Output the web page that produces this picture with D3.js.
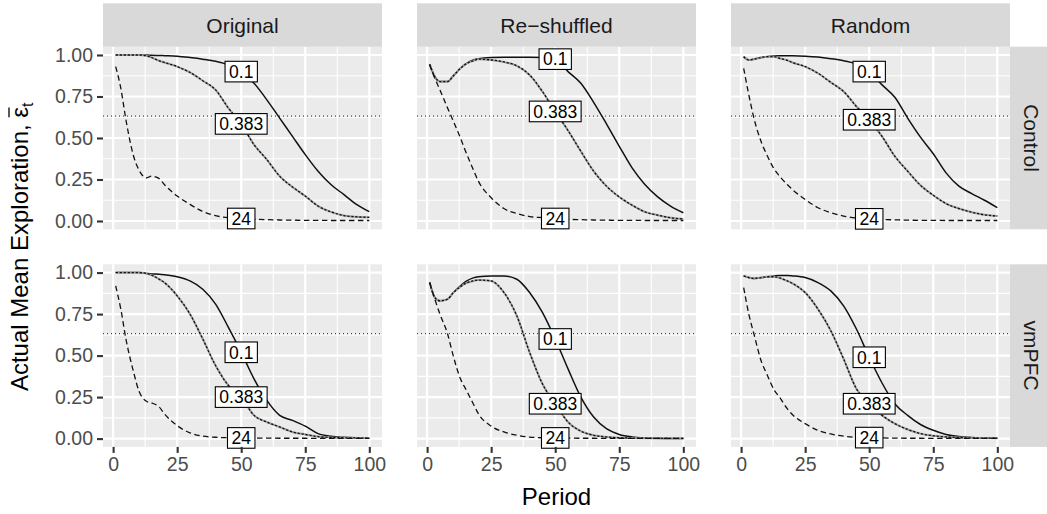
<!DOCTYPE html>
<html>
<head>
<meta charset="utf-8">
<script src="https://cdn.jsdelivr.net/npm/d3@7"></script>
<style>
  body { margin: 0; background: #fff; }
  text { font-family: "Liberation Sans", Arial, sans-serif; }
</style>
</head>
<body>
<svg id="chart" width="1047" height="514"></svg>
<script>
// facets
const groups = ["Control", "vmPFC"];
const conditions = ["Original", "Re\u2212shuffled", "Random"];
const params = ["0.1", "0.383", "24"];

const periods = [1, 3, 5, 8, 10, 13, 15, 18, 20, 25, 30, 35, 40, 45, 50, 55, 60, 65, 70, 75, 80, 85, 90, 95, 100];

// Control
const ctrlOrig01   = [1.00, 1.00, 1.00, 1.00, 1.00, 1.00, 0.998, 0.997, 0.996, 0.993, 0.985, 0.975, 0.962, 0.94, 0.90, 0.83, 0.73, 0.62, 0.51, 0.40, 0.30, 0.22, 0.16, 0.10, 0.056];
const ctrlOrig0383 = [1.00, 1.00, 1.00, 1.00, 1.00, 0.995, 0.985, 0.965, 0.955, 0.93, 0.895, 0.845, 0.79, 0.68, 0.585, 0.46, 0.37, 0.27, 0.205, 0.15, 0.09, 0.055, 0.033, 0.025, 0.022];
const ctrlOrig24   = [0.93, 0.80, 0.61, 0.39, 0.31, 0.26, 0.27, 0.255, 0.22, 0.15, 0.10, 0.057, 0.032, 0.02, 0.015, 0.011, 0.008, 0.006, 0.005, 0.004, 0.004, 0.003, 0.003, 0.003, 0.003];

const ctrlShuf01   = [0.945, 0.87, 0.84, 0.84, 0.87, 0.92, 0.945, 0.97, 0.978, 0.985, 0.986, 0.986, 0.986, 0.985, 0.975, 0.90, 0.83, 0.715, 0.585, 0.45, 0.32, 0.22, 0.145, 0.09, 0.05];
const ctrlShuf0383 = [0.945, 0.87, 0.84, 0.84, 0.87, 0.92, 0.945, 0.965, 0.975, 0.97, 0.958, 0.935, 0.88, 0.78, 0.66, 0.545, 0.42, 0.30, 0.21, 0.145, 0.095, 0.055, 0.035, 0.02, 0.012];
const ctrlShuf24   = [0.94, 0.86, 0.79, 0.68, 0.61, 0.50, 0.42, 0.31, 0.24, 0.14, 0.075, 0.045, 0.027, 0.02, 0.015, 0.01, 0.008, 0.006, 0.005, 0.004, 0.004, 0.003, 0.003, 0.003, 0.003];

const ctrlRand01   = [0.99, 0.97, 0.975, 0.985, 0.99, 0.994, 0.995, 0.995, 0.995, 0.993, 0.988, 0.978, 0.965, 0.945, 0.90, 0.82, 0.745, 0.62, 0.505, 0.405, 0.29, 0.21, 0.165, 0.125, 0.08];
const ctrlRand0383 = [0.99, 0.97, 0.975, 0.985, 0.99, 0.99, 0.98, 0.968, 0.955, 0.93, 0.89, 0.835, 0.78, 0.69, 0.61, 0.51, 0.39, 0.30, 0.215, 0.155, 0.105, 0.075, 0.053, 0.037, 0.03];
const ctrlRand24   = [0.92, 0.76, 0.62, 0.47, 0.40, 0.31, 0.27, 0.22, 0.19, 0.13, 0.08, 0.05, 0.03, 0.018, 0.013, 0.009, 0.007, 0.005, 0.004, 0.004, 0.003, 0.003, 0.003, 0.003, 0.003];

// vmPFC
const vmOrig01   = [1.00, 1.00, 1.00, 1.00, 1.00, 0.995, 0.992, 0.99, 0.987, 0.975, 0.95, 0.90, 0.81, 0.67, 0.52, 0.36, 0.23, 0.14, 0.11, 0.075, 0.03, 0.014, 0.008, 0.005, 0.004];
const vmOrig0383 = [1.00, 1.00, 1.00, 1.00, 1.00, 0.995, 0.985, 0.96, 0.94, 0.86, 0.75, 0.60, 0.44, 0.32, 0.25, 0.14, 0.10, 0.07, 0.04, 0.025, 0.012, 0.007, 0.005, 0.004, 0.003];
const vmOrig24   = [0.92, 0.78, 0.60, 0.40, 0.29, 0.225, 0.215, 0.19, 0.15, 0.078, 0.035, 0.015, 0.008, 0.005, 0.004, 0.003, 0.003, 0.002, 0.002, 0.002, 0.001, 0.001, 0.001, 0.001, 0.001];

const vmShuf01   = [0.94, 0.85, 0.83, 0.84, 0.875, 0.92, 0.945, 0.968, 0.975, 0.98, 0.98, 0.96, 0.88, 0.76, 0.60, 0.42, 0.25, 0.13, 0.06, 0.025, 0.01, 0.004, 0.002, 0.001, 0.001];
const vmShuf0383 = [0.94, 0.85, 0.83, 0.84, 0.875, 0.915, 0.935, 0.95, 0.955, 0.95, 0.88, 0.74, 0.52, 0.33, 0.21, 0.10, 0.045, 0.02, 0.01, 0.005, 0.003, 0.002, 0.001, 0.001, 0.001];
const vmShuf24   = [0.94, 0.84, 0.75, 0.63, 0.51, 0.36, 0.30, 0.21, 0.15, 0.075, 0.04, 0.02, 0.009, 0.005, 0.004, 0.003, 0.002, 0.002, 0.001, 0.001, 0.001, 0.001, 0.001, 0.001, 0.001];

const vmRand01   = [0.98, 0.97, 0.965, 0.97, 0.975, 0.98, 0.982, 0.982, 0.98, 0.97, 0.94, 0.89, 0.80, 0.66, 0.49, 0.335, 0.21, 0.14, 0.085, 0.05, 0.025, 0.012, 0.006, 0.004, 0.003];
const vmRand0383 = [0.98, 0.97, 0.965, 0.97, 0.975, 0.975, 0.968, 0.95, 0.935, 0.88, 0.78, 0.65, 0.48, 0.30, 0.21, 0.14, 0.09, 0.055, 0.03, 0.017, 0.01, 0.006, 0.004, 0.003, 0.002];
const vmRand24   = [0.91, 0.75, 0.63, 0.46, 0.39, 0.29, 0.25, 0.18, 0.145, 0.09, 0.05, 0.028, 0.015, 0.008, 0.006, 0.004, 0.003, 0.002, 0.002, 0.001, 0.001, 0.001, 0.001, 0.001, 0.001];

const xTicks = [0, 25, 50, 75, 100];
const yTicks = [0, 0.25, 0.5, 0.75, 1];
const threshold = 0.632;   // dotted reference line
const labelPeriod = 50;

// group -> condition -> [0.1, 0.383, 24]
const series = {
    "Control": [
        [ctrlOrig01, ctrlOrig0383, ctrlOrig24],
        [ctrlShuf01, ctrlShuf0383, ctrlShuf24],
        [ctrlRand01, ctrlRand0383, ctrlRand24]
    ],
    "vmPFC": [
        [vmOrig01, vmOrig0383, vmOrig24],
        [vmShuf01, vmShuf0383, vmShuf24],
        [vmRand01, vmRand0383, vmRand24]
    ]
};

class facetChart {
    constructor(_config) {
        this.config = {
            parentElement: _config.parentElement,
            panelLeft: 103,
            panelTop: 46.7,
            panelWidth: 279,
            panelHeight: 182.6,
            gap: 35,
            stripSize: 43.4
        };
        this.initVis();
    }

    initVis() {
        let vis = this;
        let c = vis.config;
        vis.svg = d3.select(c.parentElement);

        vis.x = d3.scaleLinear().domain([1 - 4.95, 100 + 4.95]).range([0, c.panelWidth]);
        vis.y = d3.scaleLinear().domain([-0.05, 1.05]).range([c.panelHeight, 0]);

        vis.line = d3.line()
            .x((d, i) => vis.x(periods[i]))
            .y(d => vis.y(d))
            .curve(d3.curveMonotoneX);

        groups.forEach((g, r) => {
            conditions.forEach((cond, col) => {
                let px = c.panelLeft + col * (c.panelWidth + c.gap);
                let py = c.panelTop + r * (c.panelHeight + c.gap);
                let panel = vis.svg.append("g").attr("transform", `translate(${px},${py})`);
                vis.drawPanel(panel, series[g][col]);

                // axes on outer panels only
                if (col === 0) {
                    panel.append("g")
                        .call(d3.axisLeft(vis.y).tickValues(yTicks).tickFormat(d3.format(".2f")).tickSize(6).tickPadding(4))
                        .call(a => a.select(".domain").remove())
                        .call(a => a.selectAll("line").attr("stroke", "#333").attr("stroke-width", 2.1))
                        .call(a => a.selectAll("text").attr("fill", "#4D4D4D").style("font-size", "19.5px")
                            .style("font-family", "Liberation Sans, Arial, sans-serif"));
                }
                if (r === groups.length - 1) {
                    panel.append("g")
                        .attr("transform", `translate(0,${c.panelHeight})`)
                        .call(d3.axisBottom(vis.x).tickValues(xTicks).tickSize(6).tickPadding(4))
                        .call(a => a.select(".domain").remove())
                        .call(a => a.selectAll("line").attr("stroke", "#333").attr("stroke-width", 2.1))
                        .call(a => a.selectAll("text").attr("fill", "#4D4D4D").style("font-size", "19.5px")
                            .style("font-family", "Liberation Sans, Arial, sans-serif"));
                }

                // top strips
                if (r === 0) {
                    vis.svg.append("rect")
                        .attr("x", px).attr("y", py - c.stripSize)
                        .attr("width", c.panelWidth).attr("height", c.stripSize)
                        .attr("fill", "#D9D9D9");
                    vis.svg.append("text")
                        .attr("x", px + c.panelWidth / 2).attr("y", py - c.stripSize / 2 + 7.5)
                        .attr("text-anchor", "middle")
                        .attr("fill", "#1A1A1A")
                        .style("font-size", "21px")
                        .text(cond);
                }
                // right strips
                if (col === conditions.length - 1) {
                    let sx = px + c.panelWidth;
                    vis.svg.append("rect")
                        .attr("x", sx).attr("y", py)
                        .attr("width", c.stripSize).attr("height", c.panelHeight)
                        .attr("fill", "#D9D9D9");
                    vis.svg.append("text")
                        .attr("transform", `translate(${sx + c.stripSize / 2 - 7.5},${py + c.panelHeight / 2}) rotate(90)`)
                        .attr("text-anchor", "middle")
                        .attr("fill", "#1A1A1A")
                        .style("font-size", "21px")
                        .text(g);
                }
            });
        });

        // axis titles
        let totalW = conditions.length * c.panelWidth + (conditions.length - 1) * c.gap;
        let totalH = groups.length * c.panelHeight + (groups.length - 1) * c.gap;
        vis.svg.append("text")
            .attr("x", c.panelLeft + totalW / 2).attr("y", 505)
            .attr("text-anchor", "middle")
            .style("font-size", "24px")
            .text("Period");

        let yg = vis.svg.append("g")
            .attr("transform", `translate(28,${c.panelTop + totalH / 2}) rotate(-90)`);
        let yt = yg.append("text")
            .attr("text-anchor", "middle")
            .style("font-size", "24px");
        let lead = "Actual Mean Exploration, ";
        yt.append("tspan").text(lead + "\u03B5");
        yt.append("tspan").attr("dy", "0.3em").style("font-size", "16px").text("t");
        // bar over epsilon
        let eps = yt.node().getExtentOfChar(lead.length);
        yg.append("line")
            .attr("x1", eps.x + 0.5).attr("x2", eps.x + eps.width - 0.5)
            .attr("y1", eps.y + 3).attr("y2", eps.y + 3)
            .attr("stroke", "#000").attr("stroke-width", 1.3);
    }

    drawPanel(panel, vals) {
        let vis = this;
        let c = vis.config;

        panel.append("rect").attr("width", c.panelWidth).attr("height", c.panelHeight).attr("fill", "#EBEBEB");

        // minor grid
        let xMinor = [12.5, 37.5, 62.5, 87.5];
        let yMinor = [0.125, 0.375, 0.625, 0.875];
        panel.selectAll(".xminor").data(xMinor).join("line")
            .attr("x1", d => vis.x(d)).attr("x2", d => vis.x(d))
            .attr("y1", 0).attr("y2", c.panelHeight)
            .attr("stroke", "#fff").attr("stroke-width", 1.1);
        panel.selectAll(".yminor").data(yMinor).join("line")
            .attr("y1", d => vis.y(d)).attr("y2", d => vis.y(d))
            .attr("x1", 0).attr("x2", c.panelWidth)
            .attr("stroke", "#fff").attr("stroke-width", 1.1);
        // major grid
        panel.selectAll(".xmajor").data(xTicks).join("line")
            .attr("x1", d => vis.x(d)).attr("x2", d => vis.x(d))
            .attr("y1", 0).attr("y2", c.panelHeight)
            .attr("stroke", "#fff").attr("stroke-width", 2.2);
        panel.selectAll(".ymajor").data(yTicks).join("line")
            .attr("y1", d => vis.y(d)).attr("y2", d => vis.y(d))
            .attr("x1", 0).attr("x2", c.panelWidth)
            .attr("stroke", "#fff").attr("stroke-width", 2.2);

        // threshold
        panel.append("line")
            .attr("x1", 0).attr("x2", c.panelWidth)
            .attr("y1", vis.y(threshold)).attr("y2", vis.y(threshold))
            .attr("stroke", "#222").attr("stroke-width", 1)
            .attr("stroke-dasharray", "1,3");

        // lines: 0.1 solid, 0.383 dotted, 24 dashed
        let dash = [null, "2.2,1.8", "5.5,3.5"];
        vals.forEach((v, k) => {
            if (k === 1) {
                panel.append("path").attr("d", vis.line(v))
                    .attr("fill", "none").attr("stroke", "#9C9C9C").attr("stroke-width", 2);
            }
            panel.append("path").attr("d", vis.line(v))
                .attr("fill", "none").attr("stroke", "#111")
                .attr("stroke-width", k === 0 ? 1.5 : 1.3)
                .attr("stroke-dasharray", dash[k]);
        });

        // labels at period 50
        let li = periods.indexOf(labelPeriod);
        vals.forEach((v, k) => {
            let g = panel.append("g").attr("transform", `translate(${vis.x(labelPeriod)},${vis.y(v[li])})`);
            let t = g.append("text")
                .attr("text-anchor", "middle").attr("dy", "0.36em")
                .style("font-size", "17.5px")
                .text(params[k]);
            let w = t.node().getComputedTextLength();
            g.insert("rect", "text")
                .attr("x", -w / 2 - 4).attr("y", -10.3)
                .attr("width", w + 8).attr("height", 20.6)
                .attr("fill", "#fff").attr("stroke", "#000").attr("stroke-width", 1.1);
        });
    }
}

new facetChart({ parentElement: "#chart" });
</script>
</body>
</html>
